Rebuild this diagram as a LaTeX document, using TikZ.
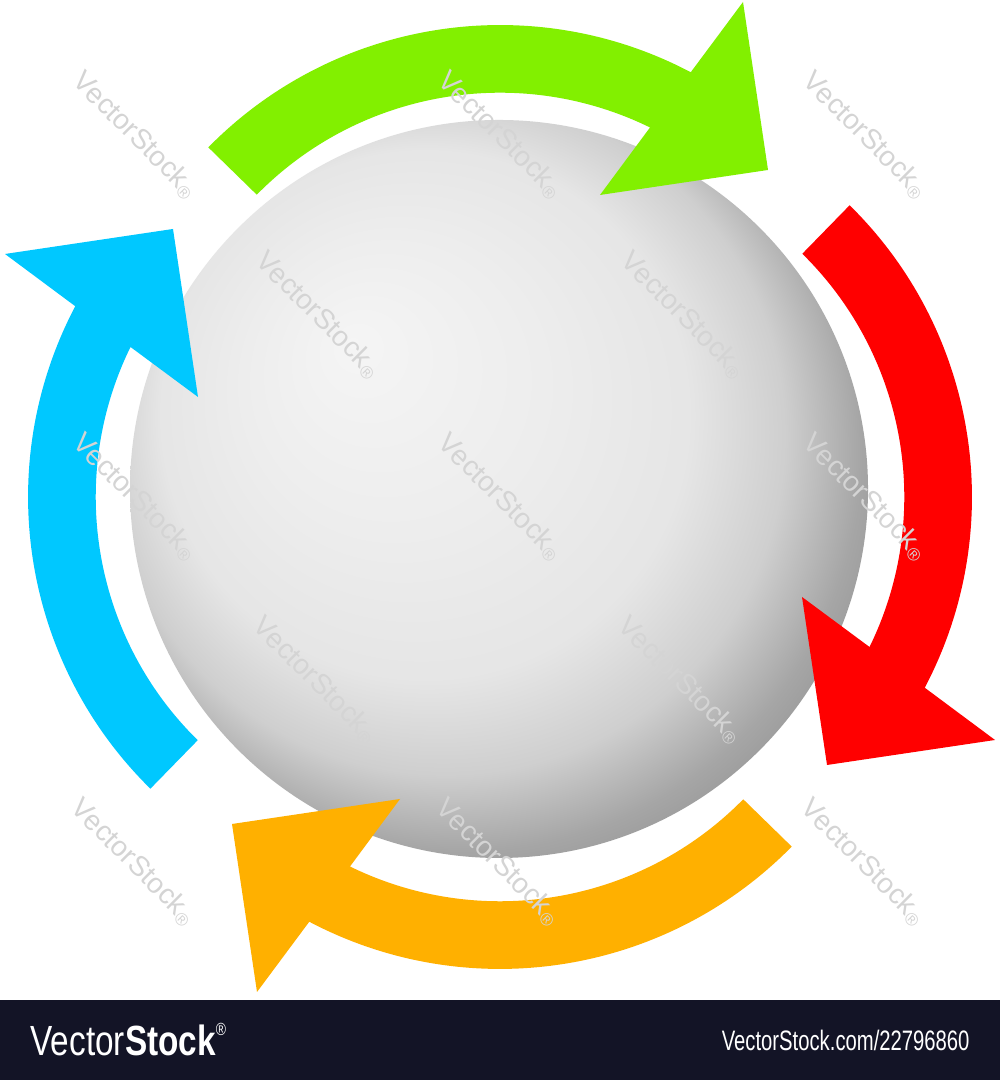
\documentclass[tikz,border=0pt]{standalone}
\usepackage{fontspec}
\setmainfont{Liberation Sans}
\usepackage{tikz}
\usetikzlibrary{positioning,calc}

\definecolor{arrgreen}{RGB}{130,240,0}
\definecolor{arrred}{RGB}{255,0,0}
\definecolor{arrorange}{RGB}{255,176,0}
\definecolor{arrblue}{RGB}{0,200,255}
\definecolor{barnavy}{RGB}{19,20,38}

\pgfdeclareradialshading{spherelit}{\pgfpoint{-10bp}{10bp}}{%
  color(0bp)=(black!4); color(10bp)=(black!7); color(18bp)=(black!10);
  color(23bp)=(black!19); color(27bp)=(black!35); color(31bp)=(black!45);
  color(36bp)=(black!50)}

\begin{document}
\begin{tikzpicture}[x=0.01cm,y=0.01cm,
    wmark/.style={text=black!17,font=\fontsize{8}{9}\selectfont,rotate=-45,inner sep=0pt},
    bartext/.style={text=white,inner sep=0pt}]
            \useasboundingbox (0,0) rectangle (1000,1080);
            \fill[white] (0,0) rectangle (1000,1080);
            % the sphere
            \coordinate (ball) at (499,591);
            \shade[shading=spherelit] (ball) circle (369);
            % four arrows, one shape turned round the hub
            \coordinate (hub) at (500,583);
            \foreach \rot/\col in {0/arrgreen, -90/arrred, -180/arrorange, -270/arrblue} {
                \begin{scope}[shift={(hub)},rotate=\rot]
                    \fill[\col] (-291.7,349.6) arc[start angle=135.5, end angle=62.2, radius=409]
                        -- (243,495) -- (268,327) -- (100,302) -- (150,369.5)
                        arc[start angle=63.9, end angle=135.5, radius=341] -- cycle;
                \end{scope}
            }
            % watermarks
            \foreach \x/\y in {135/945, 500/945, 865/945, 318/765, 683/765, 135/583, 500/583,
                               865/583, 315/400, 680/400, 133/218, 498/218, 863/218} {
                \node[wmark] at (\x,\y) {VectorStock\raisebox{-0.3ex}{\tiny ®}};
            }
            % bottom bar
            \fill[barnavy] (0,0) rectangle (1000,80);
            \node[bartext,anchor=west,xscale=0.79] (brand) at (30,40)
                {\fontsize{12}{14}\selectfont Vector\textbf{Stock}\raisebox{0.9ex}{\tiny ®}};
            \node[bartext,anchor=east,xscale=0.72] (imgid) at (970,40)
                {\fontsize{8}{10}\selectfont VectorStock.com/22796860};
        \end{tikzpicture}
\end{document}
